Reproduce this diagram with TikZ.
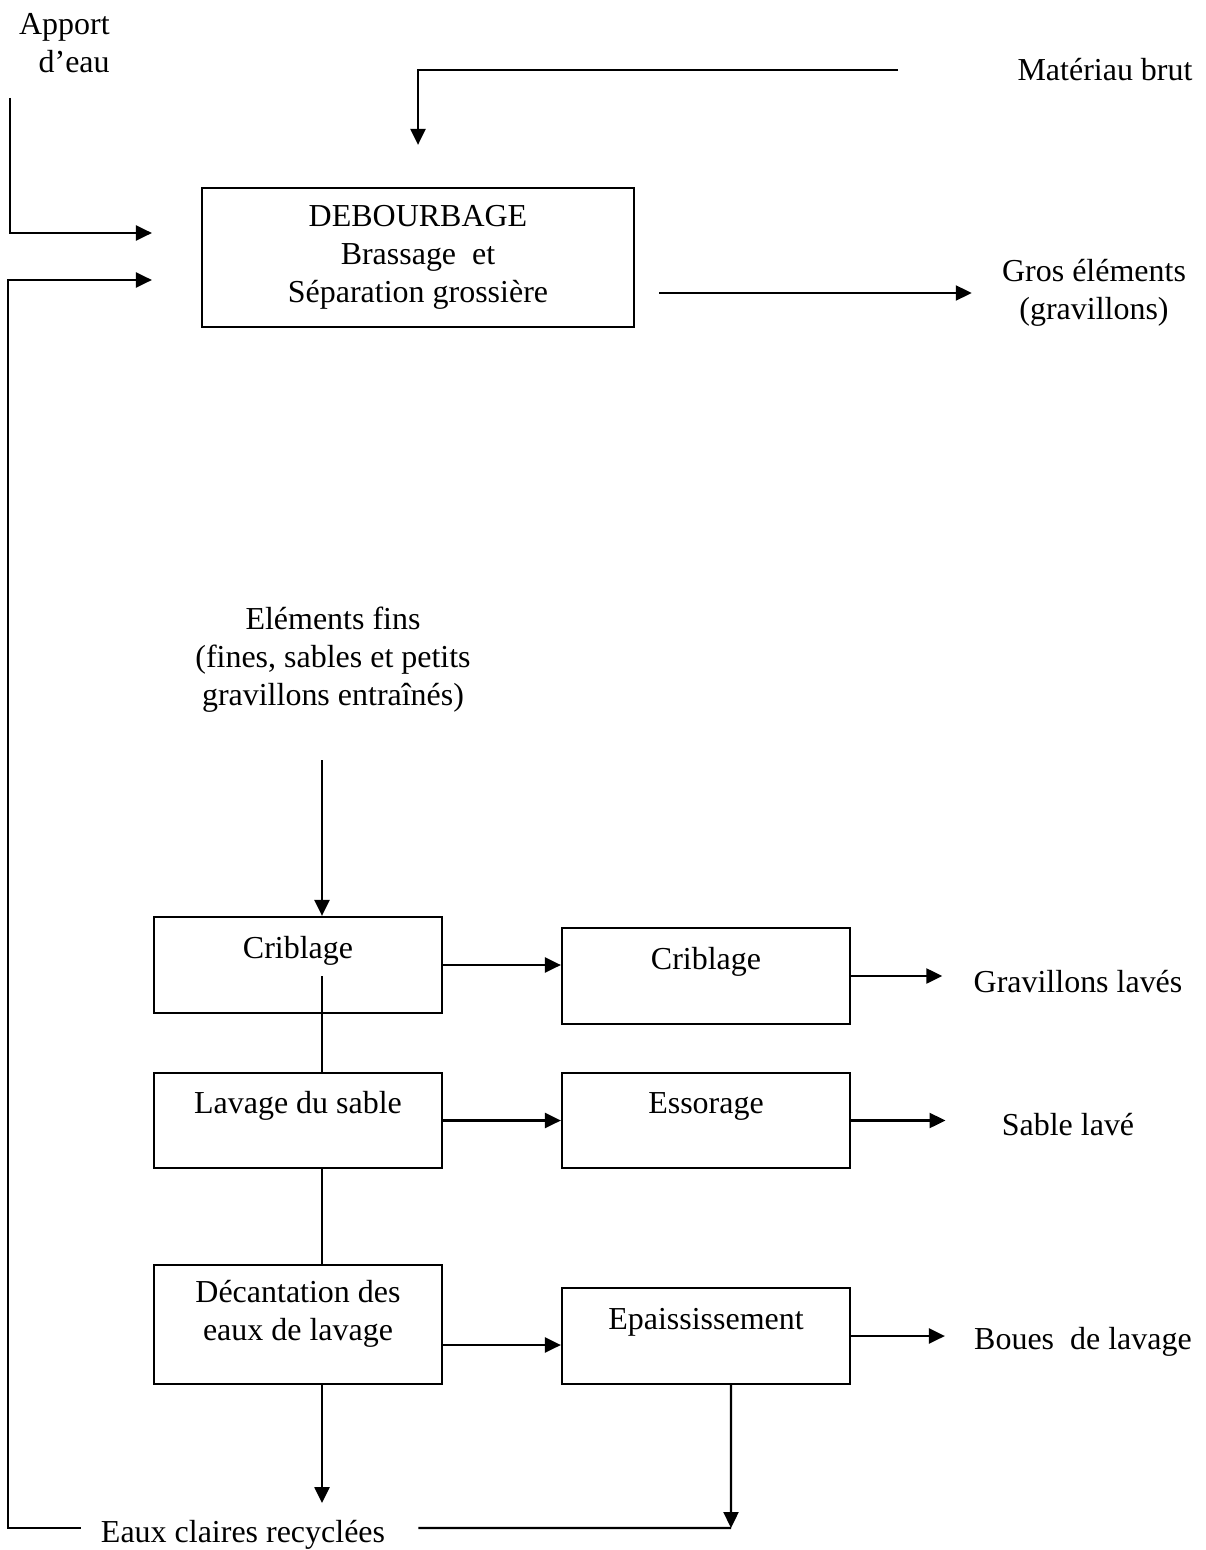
\documentclass[tikz,border=0pt]{standalone}
\usepackage{fontspec}
\setmainfont{Liberation Serif}
\usetikzlibrary{arrows.meta}

\tikzset{
	box/.style={draw, line width=1.3pt, minimum width=5.76cm, minimum height=1.92cm, inner sep=0pt, align=center},
	boxtop/.style={text height=0.45cm, text depth=0.73cm},
	lbl/.style={inner sep=0pt, align=center},
	flow/.style={line width=1.3pt, -{Triangle[length=0.32cm,width=0.3cm]}},
	pipe/.style={line width=1.3pt}
}

\begin{document}
\begin{tikzpicture}[x=0.02cm, y=-0.02cm, font=\fontsize{18.2}{21.6}\selectfont]
		\useasboundingbox (0,0) rectangle (1205,1550);
		
		\node[box, minimum width=8.64cm, minimum height=2.78cm] (deb) at (418,257.5) {DEBOURBAGE\\Brassage\ \ et\\Séparation grossière};
		\node[box, boxtop] (crib1) at (298,965) {Criblage};
		\node[box, boxtop, minimum height=1.9cm] (lav) at (298,1120.5) {Lavage du sable};
		\node[box, minimum height=2.38cm, text depth=0.56cm] (dec) at (298,1324.5) {Décantation des\\eaux de lavage};
		\node[box, boxtop] (crib2) at (706,976) {Criblage};
		\node[box, boxtop, minimum height=1.9cm] (ess) at (706,1120.5) {Essorage};
		\node[box, boxtop] (epa) at (706,1336) {Epaississement};
		
		\node[lbl, align=right, anchor=east] (apport) at (110,43) {Apport\\d’eau};
		\node[lbl] (mat) at (1105,70) {Matériau brut};
		\node[lbl] (gros) at (1094,293) {Gros éléments\\(gravillons)};
		\node[lbl] (fins) at (333,660) {Eléments fins\\(fines, sables et petits\\gravillons entraînés)};
		\node[lbl] (gl) at (1078,982) {Gravillons lavés};
		\node[lbl] (sl) at (1068,1125) {Sable lavé};
		\node[lbl] (boues) at (1083,1342) {Boues\ \ de lavage};
		\node[lbl] (eaux) at (243,1535) {Eaux claires recyclées};
		
		\coordinate (eauin) at (10,98);
		\coordinate (recycle) at (8,280);
		\coordinate (join) at (731,1528);
		\coordinate (spine) at ([xshift=0.48cm]crib1.north);
		
		% arrivees au debourbage
		\draw[flow, shorten >=0.98cm] (eauin) |- ([yshift=0.49cm]deb.west);
		\draw[flow, shorten <=0.4cm, shorten >=0.98cm] ([yshift=0.14cm]eaux.west) -| (recycle) -- (recycle -| deb.west);
		\draw[flow, shorten <=2.38cm, shorten >=0.84cm] (mat.west) -| (deb.north);
		\draw[flow, shorten <=0.48cm, shorten >=0.6cm] (deb.east |- gros) -- (gros.west);
		
		% colonne de gauche
		\draw[flow, shorten <=0.94cm] (spine |- fins.south) -- (spine);
		\draw[pipe] ([yshift=-0.22cm]spine |- crib1) -- (spine |- lav.north);
		\draw[pipe] (spine |- lav.south) -- (spine |- dec.north);
		\draw[flow, shorten >=0.34cm] (spine |- dec.south) -- (spine |- eaux.north);
		
		\draw[flow] (crib1.east) -- (crib1.east -| crib2.west);
		\draw[flow] (lav) -- (ess);
		\draw[flow] ([yshift=-0.41cm]dec.east) -- ([yshift=-0.41cm]dec.east -| epa.west);
		
		% sorties
		\draw[flow, shorten >=0.62cm] (crib2) -- (crib2 -| gl.west);
		\draw[flow, shorten >=1.12cm] (ess) -- (ess -| sl.west);
		\draw[flow, shorten >=0.58cm] (epa) -- (epa -| boues.west);
		\draw[flow] ([xshift=0.5cm]epa.south) -- (join);
		\draw[pipe, shorten <=0.66cm] ([yshift=0.14cm]eaux.east) -- (join);
	\end{tikzpicture}
\end{document}
